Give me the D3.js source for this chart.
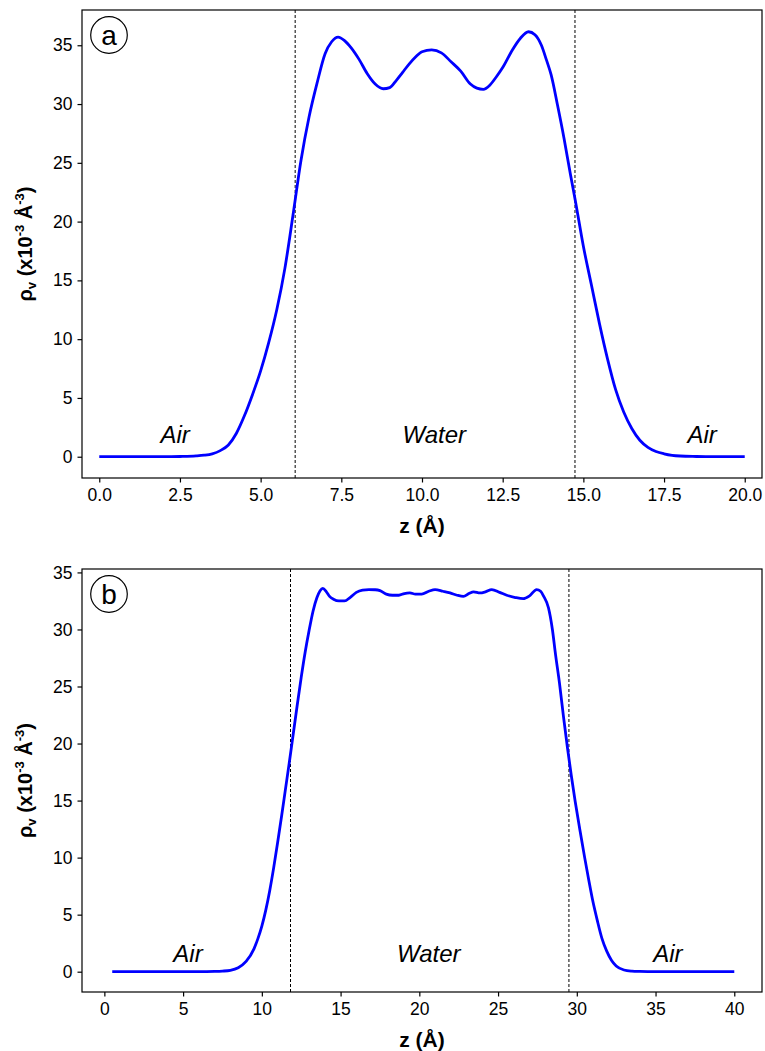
<!DOCTYPE html>
<meta charset="utf-8">
<style>
  body { margin: 0; background: #fff; }
  text { font-family: "Liberation Sans", Arial, Helvetica, sans-serif; fill: #000; }
</style>
<script src="https://d3js.org/d3.v7.min.js"></script>
<div id="chart"></div>
<script>

// panel (a): density profile, 20 A box
var zA = [0, 0.5, 1.0, 1.5, 2.0, 2.5, 3.0, 3.25, 3.5, 3.75, 4.0, 4.25, 4.5, 4.75, 5.0, 5.25, 5.5, 5.75,
  6.0, 6.25, 6.5, 6.75, 7.0, 7.2, 7.4, 7.6, 7.8, 8.05, 8.3, 8.55, 8.8, 9.0, 9.2, 9.4, 9.6, 9.8, 10.0,
  10.3, 10.6, 10.9, 11.2, 11.5, 11.7, 11.9, 12.1, 12.3, 12.5, 12.8, 13.05, 13.3, 13.5, 13.7, 13.85,
  14.0, 14.2, 14.4, 14.6, 14.75, 15.0, 15.25, 15.5, 15.75, 16.0, 16.25, 16.5, 16.75, 17.0, 17.25,
  17.5, 17.75, 18.0, 18.5, 19.0, 19.5, 20.0];
var rhoA = [0, 0, 0, 0, 0, 0.02, 0.07, 0.13, 0.25, 0.52, 1.0, 2.0, 3.5, 5.3, 7.3, 9.7, 12.5, 16.0,
  20.5, 25.2, 28.9, 31.8, 34.3, 35.3, 35.7, 35.4, 34.8, 33.8, 32.6, 31.7, 31.3, 31.4, 32.0, 32.7, 33.4, 34.0, 34.45,
  34.6, 34.35, 33.6, 32.8, 31.7, 31.35, 31.25, 31.6, 32.3, 33.1, 34.6, 35.6, 36.15, 35.9, 35.0, 33.8,
  32.5, 29.9, 27.1, 24.0, 21.8, 17.9, 14.6, 11.3, 8.3, 5.7, 3.8, 2.4, 1.4, 0.8, 0.45,
  0.25, 0.12, 0.06, 0.02, 0, 0, 0];

// panel (b): density profile, 40 A box
var zB = [0.5, 1, 2, 3, 4, 5, 6, 7, 7.5, 8, 8.5, 9.0, 9.5, 9.75, 10.0, 10.25, 10.5, 10.75, 11.0, 11.25, 11.5,
  11.75, 12.0, 12.25, 12.5, 12.75, 13.0, 13.25, 13.5, 13.7, 13.87, 14.1, 14.3, 14.55, 14.9, 15.25, 15.6,
  16.0, 16.4, 16.8, 17.2, 17.5, 17.9, 18.3, 18.7, 19.05, 19.4, 19.75, 20.15, 20.6, 21.0, 21.5, 21.95,
  22.4, 22.8, 23.15, 23.45, 23.85, 24.2, 24.6, 25.1, 25.55, 26.1, 26.6, 27.0, 27.45, 27.7, 27.9, 28.2,
  28.45, 28.65, 28.9, 29.15, 29.4, 29.65, 29.9, 30.2, 30.5, 30.75, 31.0, 31.3, 31.6, 31.9, 32.2, 32.5,
  33.0, 33.5, 34, 35, 36, 37, 38, 39, 40];
var rhoB = [0, 0, 0, 0, 0, 0, 0, 0.02, 0.05, 0.12, 0.35, 0.9, 2.0, 2.9, 4.0, 5.4, 7.1, 9.1, 11.3, 13.6, 16.0,
  18.4, 20.9, 23.4, 25.8, 28.0, 29.9, 31.6, 32.8, 33.4, 33.6, 33.3, 32.9, 32.65, 32.5, 32.5, 32.8,
  33.25, 33.45, 33.5, 33.48, 33.4, 33.1, 33.0, 33.0, 33.15, 33.2, 33.1, 33.1, 33.35, 33.5, 33.35, 33.2,
  33.0, 32.9, 33.15, 33.3, 33.2, 33.3, 33.5, 33.25, 33.0, 32.8, 32.7, 32.95, 33.5, 33.35, 32.9, 31.9,
  30.0, 27.8, 25.3, 22.4, 19.7, 17.2, 14.9, 12.4, 10.0, 8.1, 6.3, 4.5, 2.9, 1.8, 1.0, 0.5,
  0.15, 0.05, 0.02, 0, 0, 0, 0, 0, 0];

// interfaces (dashed lines) and region labels
var interfacesA = [6.07, 14.74];
var interfacesB = [11.82, 29.5];
var regionNames = ["Air", "Water", "Air"];
var regionZA = [2.35, 10.38, 18.68];
var regionZB = [5.31, 20.6, 35.78];

var xTicksA = [0, 2.5, 5, 7.5, 10, 12.5, 15, 17.5, 20];
var xTicksB = [0, 5, 10, 15, 20, 25, 30, 35, 40];
var yTicks = [0, 5, 10, 15, 20, 25, 30, 35];

var W = 765, H = 1051;
var svg = d3.select("#chart").append("svg")
  .attr("width", W).attr("height", H);

function drawPanel(p) {
  var x = d3.scaleLinear().domain(p.xDomain).range([p.left, p.right]);
  var y = d3.scaleLinear().domain(p.yDomain).range([p.bottom, p.top]);
  var g = svg.append("g");

  // dashed interface lines
  g.selectAll("line.iface")
    .data(p.interfaces)
    .enter().append("line")
      .attr("x1", function(d) { return x(d); })
      .attr("x2", function(d) { return x(d); })
      .attr("y1", p.top).attr("y2", p.bottom)
      .attr("stroke", "#000").attr("stroke-width", 1)
      .attr("stroke-dasharray", "3,2");

  // region labels
  g.selectAll("text.region")
    .data(regionNames)
    .enter().append("text")
      .attr("x", function(d, i) { return x(p.regionZ[i]); })
      .attr("y", y(p.labelRho))
      .attr("text-anchor", "middle")
      .style("font-size", "24px")
      .style("font-style", "italic")
      .text(function(d) { return d; });

  // density curve
  var pts = p.z.map(function(d, i) { return [d, p.rho[i]]; });
  g.append("path")
    .datum(pts)
    .attr("fill", "none")
    .attr("stroke", "#0000ff")
    .attr("stroke-width", 2.8)
    .attr("stroke-linejoin", "round")
    .attr("d", d3.line()
      .x(function(d) { return x(d[0]); })
      .y(function(d) { return y(d[1]); })
      .curve(d3.curveMonotoneX));

  // axes
  var xAxis = g.append("g")
    .attr("transform", "translate(0," + p.bottom + ")")
    .call(d3.axisBottom(x).tickValues(p.xTicks).tickFormat(p.xFormat)
      .tickSize(4.5).tickSizeOuter(0).tickPadding(6));
  var yAxis = g.append("g")
    .attr("transform", "translate(" + p.left + ",0)")
    .call(d3.axisLeft(y).tickValues(yTicks).tickFormat(d3.format("d"))
      .tickSize(4.5).tickSizeOuter(0).tickPadding(5));
  [xAxis, yAxis].forEach(function(a) {
    a.select(".domain").remove();
    a.selectAll(".tick line").attr("stroke", "#000").attr("stroke-width", 1.2);
    a.selectAll(".tick text")
      .style("font-size", "17.5px")
      .style("font-family", "'Liberation Sans', Arial, Helvetica, sans-serif")
      .attr("fill", "#000");
  });

  // frame
  g.append("rect")
    .attr("x", p.left).attr("y", p.top)
    .attr("width", p.right - p.left).attr("height", p.bottom - p.top)
    .attr("fill", "none").attr("stroke", "#000").attr("stroke-width", 1.2);

  // panel letter
  g.append("circle")
    .attr("cx", p.left + 27).attr("cy", p.top + 25).attr("r", 18.3)
    .attr("fill", "none").attr("stroke", "#000").attr("stroke-width", 1.2);
  g.append("text")
    .attr("x", p.left + 27).attr("y", p.top + 25)
    .attr("dy", "0.35em")
    .attr("text-anchor", "middle")
    .style("font-size", "28px")
    .text(p.letter);

  // x label
  g.append("text")
    .attr("x", (p.left + p.right) / 2)
    .attr("y", p.bottom + 55)
    .attr("text-anchor", "middle")
    .style("font-size", "21px")
    .style("font-weight", "bold")
    .text("z (Å)");

  // y label
  var yl = g.append("text")
    .attr("transform", "translate(32," + ((p.top + p.bottom) / 2) + ") rotate(-90)")
    .attr("text-anchor", "middle")
    .style("font-size", "20px")
    .style("font-weight", "bold");
  yl.append("tspan").text("ρ");
  yl.append("tspan").attr("dy", 4).style("font-size", "13px").text("v");
  yl.append("tspan").attr("dy", -4).text(" (x10");
  yl.append("tspan").attr("dy", -8).style("font-size", "13px").text("-3");
  yl.append("tspan").attr("dy", 8).text(" Å");
  yl.append("tspan").attr("dy", -8).style("font-size", "13px").text("-3");
  yl.append("tspan").attr("dy", 8).text(")");
}

drawPanel({
  left: 82, right: 762, top: 10, bottom: 478,
  xDomain: [-0.535, 20.535], yDomain: [-1.81, 38.0],
  z: zA, rho: rhoA, interfaces: interfacesA, regionZ: regionZA, labelRho: 1.19,
  xTicks: xTicksA, xFormat: d3.format(".1f"), letter: "a"
});

drawPanel({
  left: 82, right: 762, top: 569, bottom: 992,
  xDomain: [-1.42, 41.76], yDomain: [-1.78, 35.3],
  z: zB, rho: rhoB, interfaces: interfacesB, regionZ: regionZB, labelRho: 0.85,
  xTicks: xTicksB, xFormat: d3.format("d"), letter: "b"
});

</script>
